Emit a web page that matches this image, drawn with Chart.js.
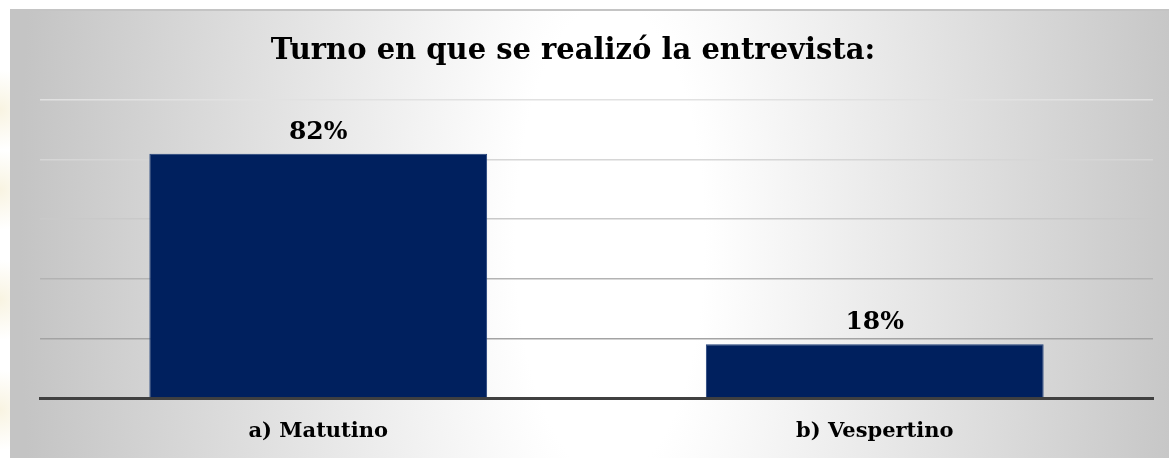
<!DOCTYPE html>
<html lang="es">
<head>
<meta charset="utf-8">
<title>Turno en que se realizó la entrevista</title>
<script src="https://cdn.jsdelivr.net/npm/chart.js@4.4.1/dist/chart.umd.min.js"></script>
<style>
  html, body { margin: 0; padding: 0; background: #fff; }
  canvas { display: block; }
</style>
</head>
<body>
<canvas id="turno-chart" width="1169" height="458"></canvas>
<script>
var titulo = 'Turno en que se realizó la entrevista:';
var categorias = ['a) Matutino', 'b) Vespertino'];
var porcentajes = [82, 18];
var ticksY = [0, 20, 40, 60, 80, 100];

var fuenteSerif = '"DejaVu Serif", "Liberation Serif", serif';

// las lineas de cuadricula se oscurecen hacia abajo
var coloresRejilla = {
  0: 'rgba(0,0,0,0)',
  20: '#a3a3a3',
  40: '#b3b3b3',
  60: '#c9c9c9',
  80: '#d6d6d6',
  100: '#e1e1e1'
};

// fondo gris con franja central clara y borde superior
var fondoPlugin = {
  id: 'fondo',
  beforeDraw: function (chart) {
    var ctx = chart.ctx;
    ctx.save();
    ctx.fillStyle = '#ffffff';
    ctx.fillRect(0, 0, chart.width, chart.height);

    // manchas amarillas muy tenues a la izquierda
    [110, 190, 300, 410].forEach(function (y) {
      var g = ctx.createRadialGradient(0, y, 0, 0, y, 40);
      g.addColorStop(0, 'rgba(236, 222, 170, 0.35)');
      g.addColorStop(1, 'rgba(236, 222, 170, 0)');
      ctx.fillStyle = g;
      ctx.fillRect(0, y - 40, 12, 80);
    });

    // degradado eliptico, estirado en vertical
    ctx.save();
    ctx.beginPath();
    ctx.rect(10, 9, chart.width - 10, chart.height - 9);
    ctx.clip();
    ctx.translate(610, 240);
    ctx.scale(1, 2.5);
    var grad = ctx.createRadialGradient(0, 0, 0, 0, 0, 590);
    grad.addColorStop(0, '#ffffff');
    grad.addColorStop(0.16, '#ffffff');
    grad.addColorStop(0.6, '#e0e0e0');
    grad.addColorStop(1, '#c4c4c4');
    ctx.fillStyle = grad;
    ctx.fillRect(-700, -200, 1400, 400);
    ctx.restore();

    ctx.fillStyle = '#c4c4c4';
    ctx.fillRect(10, 9, chart.width - 10, 2);
    ctx.restore();
  }
};

// titulo centrado sobre el recuadro
var tituloPlugin = {
  id: 'tituloSerif',
  afterDraw: function (chart) {
    var ctx = chart.ctx;
    ctx.save();
    ctx.font = 'bold 29px ' + fuenteSerif;
    ctx.fillStyle = '#000';
    ctx.textAlign = 'center';
    ctx.textBaseline = 'alphabetic';
    ctx.fillText(titulo, 573, 59);
    ctx.restore();
  }
};

// porcentaje sobre cada barra
var etiquetasPlugin = {
  id: 'etiquetas',
  afterDatasetsDraw: function (chart) {
    var ctx = chart.ctx;
    var meta = chart.getDatasetMeta(0);
    ctx.save();
    ctx.font = 'bold 25px ' + fuenteSerif;
    ctx.fillStyle = '#000';
    ctx.textAlign = 'center';
    ctx.textBaseline = 'alphabetic';
    meta.data.forEach(function (bar, i) {
      ctx.fillText(porcentajes[i] + '%', bar.x, bar.y - 15);
    });
    ctx.restore();
  }
};

document.addEventListener('DOMContentLoaded', function () {
  var ctx = document.getElementById('turno-chart').getContext('2d');
  var grafico = new Chart(ctx, {
    type: 'bar',
    data: {
      labels: categorias,
      datasets: [{
        label: 'Porcentaje',
        data: porcentajes,
        backgroundColor: '#00205e',
        borderColor: '#20407a',
        borderWidth: 1,
        barPercentage: 0.607,
        categoryPercentage: 1
      }]
    },
    plugins: [fondoPlugin, etiquetasPlugin, tituloPlugin],
    options: {
      responsive: false,
      animation: false,
      layout: {
        padding: { left: 40, right: 16, top: 100, bottom: 0 }
      },
      plugins: {
        legend: { display: false },
        tooltip: { enabled: false },
        title: { display: false }
      },
      scales: {
        x: {
          grid: { display: false, drawTicks: false },
          border: { display: true, color: '#404040', width: 3 },
          ticks: {
            color: '#000',
            padding: 21,
            font: { family: fuenteSerif, size: 21, weight: 'bold' }
          },
          afterFit: function (scale) {
            scale.height = 60;
          }
        },
        y: {
          min: ticksY[0],
          max: ticksY[ticksY.length - 1],
          afterBuildTicks: function (scale) {
            scale.ticks = ticksY.map(function (v) { return { value: v }; });
          },
          border: { display: false },
          grid: {
            drawTicks: false,
            lineWidth: 1.5,
            color: function (c) {
              return coloresRejilla[c.tick.value];
            }
          },
          ticks: { display: false }
        }
      }
    }
  });
});
</script>
</body>
</html>
